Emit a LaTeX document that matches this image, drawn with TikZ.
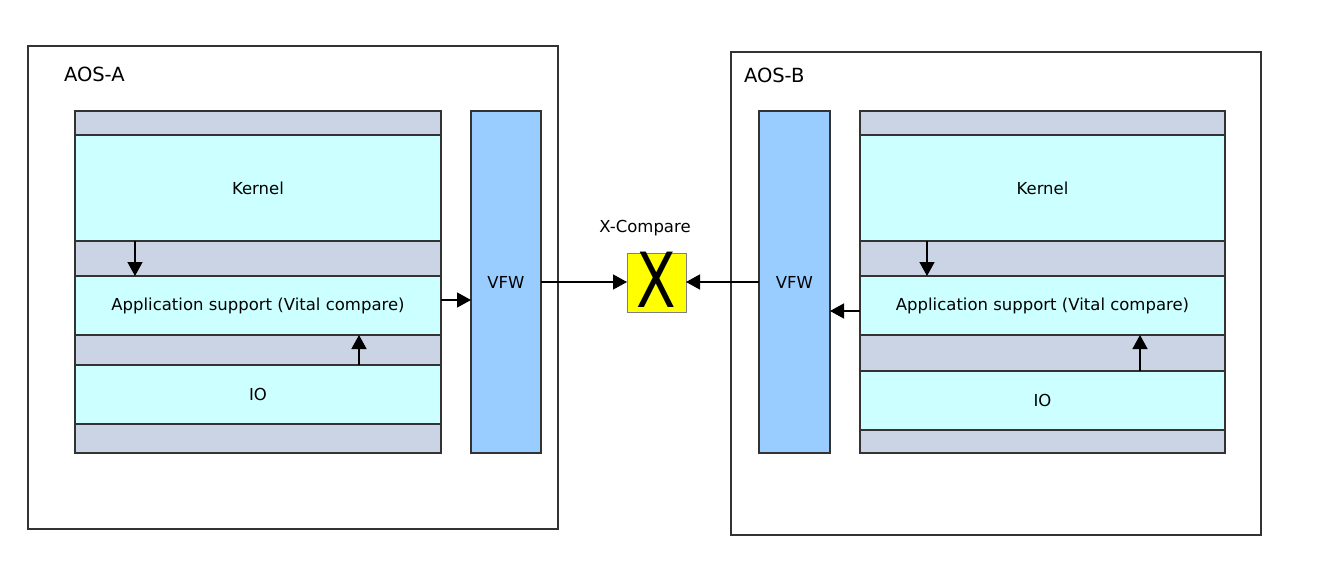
\documentclass[tikz,border=0pt]{standalone}
\usepackage{fontspec}
\setmainfont{DejaVu Sans}
\usetikzlibrary{arrows.meta}
\definecolor{bandgray}{HTML}{CAD4E4}
\definecolor{layercyan}{HTML}{CCFFFF}
\definecolor{vfwblue}{HTML}{99CCFF}
\definecolor{xyellow}{HTML}{FFFF00}
\definecolor{edgecol}{HTML}{333333}
\definecolor{xedge}{HTML}{7F7F7F}
\tikzset{
  rectbase/.style={inner sep=0pt, outer sep=0pt, anchor=north west, line width=1.4pt, draw=edgecol},
  frame/.style={rectbase, fill=white},
  band/.style={rectbase, fill=bandgray},
  layer/.style={rectbase, fill=layercyan, font=\fontsize{16.5}{20}\selectfont},
  vfw/.style={rectbase, fill=vfwblue, font=\fontsize{16.5}{20}\selectfont},
  xbox/.style={rectbase, fill=xyellow, draw=xedge, line width=1pt},
  title/.style={inner sep=0pt, outer sep=0pt, anchor=west, font=\fontsize{19.5}{22}\selectfont},
  lbl/.style={inner sep=0pt, outer sep=0pt, font=\fontsize{16.5}{20}\selectfont},
  arr/.style={-{Triangle[length=14pt,width=15pt]}, line width=1.4pt, draw=black},
}
\begin{document}
\begin{tikzpicture}[x=1pt,y=1pt]
\useasboundingbox[fill=white] (0,0) rectangle (1328,-575);

% AOS-A
\node[frame, minimum width=530pt, minimum height=483pt] (aosA) at (28,-46) {};
\node[title] (aosAlbl) at (64,-74) {AOS-A};
\node[band, minimum width=366pt, minimum height=342pt] (stackA) at (75,-111) {};
\node[layer, minimum width=366pt, minimum height=106pt] (kernA) at (75,-135) {Kernel};
\node[layer, minimum width=366pt, minimum height=59pt] (appA) at (75,-276) {Application support (Vital compare)};
\node[layer, minimum width=366pt, minimum height=59pt] (ioA) at (75,-365) {IO};
\node[vfw, minimum width=70pt, minimum height=342pt] (vfwA) at (471,-111) {VFW};

% X-Compare
\node[xbox, minimum width=59pt, minimum height=59pt] (xcmp) at (627,-253) {};
\node[inner sep=0pt, font=\fontsize{76}{76}\selectfont] (xglyph) at ([yshift=2.5pt]xcmp.center) {\scalebox{0.76}[1]{X}};
\node[lbl] (xlbl) at (645,-228) {X-Compare};

% AOS-B
\node[frame, minimum width=530pt, minimum height=483pt] (aosB) at (731,-52) {};
\node[title] (aosBlbl) at (744,-75) {AOS-B};
\node[vfw, minimum width=71pt, minimum height=342pt] (vfwB) at (759,-111) {VFW};
\node[band, minimum width=365pt, minimum height=342pt] (stackB) at (860,-111) {};
\node[layer, minimum width=365pt, minimum height=106pt] (kernB) at (860,-135) {Kernel};
\node[layer, minimum width=365pt, minimum height=59pt] (appB) at (860,-276) {Application support (Vital compare)};
\node[layer, minimum width=365pt, minimum height=59pt] (ioB) at (860,-371) {IO};

% connectors A
\draw[arr] ([xshift=60pt]kernA.south west) -- ([xshift=60pt]appA.north west);
\draw[arr] ([xshift=284pt]ioA.north west) -- ([xshift=284pt]appA.south west);
\draw[arr] ([yshift=5.5pt]appA.east) -- ([yshift=5.5pt]appA.east -| vfwA.west);
\draw[arr] (vfwA.east) -- (vfwA.east -| xcmp.west);

% connectors B
\draw[arr] (vfwB.west) -- (vfwB.west -| xcmp.east);
\draw[arr] ([yshift=-5.5pt]appB.west) -- ([yshift=-5.5pt]appB.west -| vfwB.east);
\draw[arr] ([xshift=67pt]kernB.south west) -- ([xshift=67pt]appB.north west);
\draw[arr] ([xshift=280pt]ioB.north west) -- ([xshift=280pt]appB.south west);
\end{tikzpicture}
\end{document}
